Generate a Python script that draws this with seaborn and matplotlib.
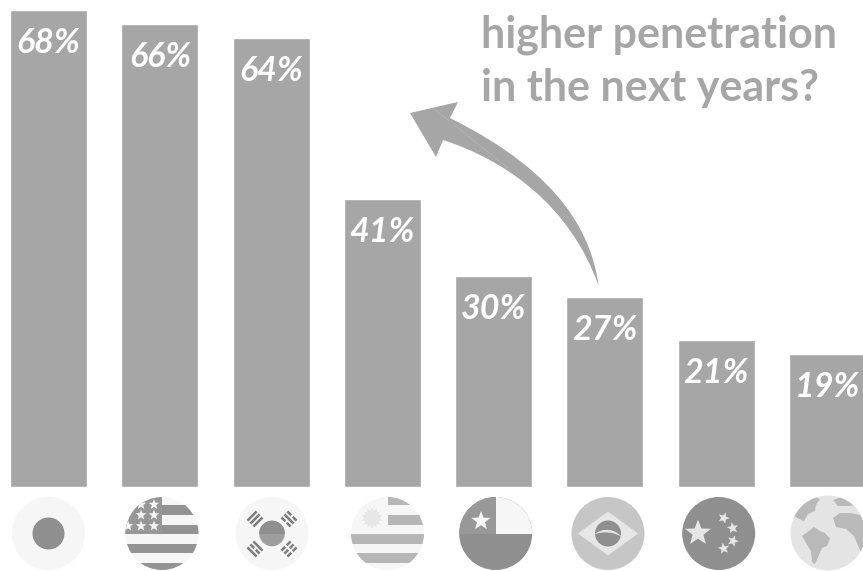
import numpy as np
import pandas as pd
import seaborn as sns
import matplotlib.pyplot as plt
from matplotlib.patches import Circle, Rectangle, Polygon, PathPatch
from matplotlib.path import Path
from matplotlib.transforms import Affine2D

countries = ["Japan", "USA", "South Korea", "Uruguay", "Chile", "Brazil", "China", "World"]
penetration = [68, 66, 64, 41, 30, 27, 21, 19]
headline = ["higher penetration", "in the next years?"]

BAR = "#a6a6a6"
LIGHT = "#f6f6f6"
DARK = "#8f8f8f"
MID = "#b6b6b6"

W, H = 863, 571
BASE_PX, PX_PER_PCT = 487, 7.02
FIRST_PX, STEP_PX = 48.6, 111.25

sns.set_theme(style="white")
plt.rcParams["font.family"] = ["Lato", "DejaVu Sans"]

fig = plt.figure(figsize=(W / 100, H / 100), dpi=100, facecolor="white")
ax = fig.add_axes([0, 0, 1, 1])
frame = pd.DataFrame({"country": countries, "share": penetration})
sns.barplot(data=frame, x="country", y="share", color=BAR, saturation=1,
            width=77 / STEP_PX, ax=ax)
ax.set_xlim(-FIRST_PX / STEP_PX, (W - FIRST_PX) / STEP_PX)
ax.set_ylim(-(H - BASE_PX) / PX_PER_PCT, BASE_PX / PX_PER_PCT)
ax.axis("off")

for i, v in enumerate(penetration):
    ax.annotate(f"{v}%", (i, v), xytext=(0, -33 * 0.72), textcoords="offset points",
                ha="center", va="center", color="white", fontsize=24.5,
                fontweight="bold", fontstyle="italic")

# Overlay in pixel units for the icons, the arrow and the headline
ov = fig.add_axes([0, 0, 1, 1], facecolor="none")
ov.set_xlim(0, W)
ov.set_ylim(H, 0)
ov.axis("off")

for text, y in zip(headline, (35, 88)):
    ov.text(481, y, text, color=BAR, fontsize=31, fontweight="bold", ha="left", va="center")


def star_points(cx, cy, r, n=5, inner=0.42, rot=-90):
    ang = np.deg2rad(rot + np.arange(2 * n) * 180 / n)
    rad = np.where(np.arange(2 * n) % 2 == 0, r, r * inner)
    return np.column_stack([cx + rad * np.cos(ang), cy + rad * np.sin(ang)])


def disc(cx, cy, r, color):
    ov.add_patch(Circle((cx, cy), r, fc=color, ec="none"))
    return Circle((cx, cy), r, transform=ov.transData)


def clipped(patch, clip):
    ov.add_patch(patch)
    patch.set_clip_path(clip)
    return patch


def rect(x0, y0, x1, y1, color, clip=None):
    p = Rectangle((x0, y0), x1 - x0, y1 - y0, fc=color, ec="none")
    return clipped(p, clip) if clip is not None else ov.add_patch(p)


def star(cx, cy, r, color, **kw):
    ov.add_patch(Polygon(star_points(cx, cy, r, **kw), closed=True, fc=color, ec="none"))


def blob(points, color, clip):
    clipped(Polygon(points, closed=True, fc=color, ec="none", joinstyle="round"), clip)


R = 36.5
CY = 533.5

# Japan
disc(48.5, CY, R, LIGHT)
ov.add_patch(Circle((48.5, CY), 16, fc=DARK, ec="none"))

# USA
cx = 162
c = disc(cx, CY, R, LIGHT)
for y0, y1 in ((505, 514.5), (524.5, 534), (543.5, 553), (562.5, 571)):
    rect(cx - 40, y0, cx + 40, y1, "#939393", c)
rect(cx - 40, 495, cx, 534, "#979797", c)
for sy, xs in ((504.5, (141, 154)), (515, (141, 154)), (526, (128, 141, 154))):
    for sx in xs:
        clipped(Polygon(star_points(sx, sy, 5.5), closed=True, fc=LIGHT, ec="none"), c)

# South Korea
cx = 272
disc(cx, CY, R, LIGHT)
ov.add_patch(Circle((cx, CY), 12.8, fc="#9e9e9e", ec="none"))
top = Rectangle((cx - 14, CY - 14), 28, 14, fc="#8f8f8f", ec="none")
ov.add_patch(top)
top.set_clip_path(Circle((cx, CY), 12.8, transform=ov.transData))
for tx, ty, ang, breaks in ((255, 519, -45, (0, 0, 0)), (289, 519, 45, (1, 0, 1)),
                            (255, 549, 45, (0, 1, 0)), (289, 549, -45, (1, 1, 1))):
    for k, b in zip((-4.2, 0, 4.2), breaks):
        segs = ((-6.5, -1), (1, 6.5)) if b else ((-6.5, 6.5),)
        for a, e in segs:
            bar = Rectangle((a, k - 1.25), e - a, 2.5, fc="#7d7d7d", ec="none")
            bar.set_transform(Affine2D().rotate_deg(ang).translate(tx, ty) + ov.transData)
            ov.add_patch(bar)

# Uruguay
cx = 387.5
c = disc(cx, CY, R, LIGHT)
rect(cx, 495, cx + 40, 505, MID, c)
rect(cx, 515, cx + 40, 524.5, MID, c)
rect(cx - 40, 534, cx + 40, 543.5, MID, c)
rect(cx - 40, 553, cx + 40, 562.5, MID, c)
star(372, 518, 10.5, "#e6e6e6", n=14, inner=0.68)

# Chile
cx = 495.7
c = disc(cx, CY, R, DARK)
rect(cx - 40, 495, cx, CY, "#989898", c)
rect(cx, 495, cx + 40, CY, LIGHT, c)
star(481, 521, 10, LIGHT)

# Brazil
cx = 608
disc(cx, CY, R, "#c6c6c6")
ov.add_patch(Polygon([(cx - 30, CY), (cx, CY - 22), (cx + 30, CY), (cx, CY + 22)],
                     closed=True, fc="#e6e6e6", ec="none"))
ov.add_patch(Circle((cx, CY), 13, fc="#8f8f8f", ec="none"))
band = Path([(cx - 14, CY + 1), (cx - 4, CY - 7), (cx + 8, CY - 4), (cx + 14, CY + 4),
             (cx + 8, CY - 1), (cx - 4, CY - 3), (cx - 14, CY + 1)],
            [Path.MOVETO, Path.CURVE4, Path.CURVE4, Path.CURVE4,
             Path.CURVE4, Path.CURVE4, Path.CURVE4])
clipped(PathPatch(band, fc="#e6e6e6", ec="none"), Circle((cx, CY), 13, transform=ov.transData))

# China
cx = 718.7
disc(cx, CY, R, DARK)
star(698, 533, 13.5, "#e6e6e6")
for sx, sy, rot in ((723.7, 518, -70), (732.7, 528, -100), (733, 541, -70), (723.7, 548.5, -100)):
    star(sx, sy, 6, "#e6e6e6", rot=rot)

# World
cx, cy = 828, 533
c = disc(cx, cy, 37.5, "#e4e4e4")
LAND = "#b9b9b9"
blob([(800, 508), (807, 500), (815, 497), (820, 499), (816, 505), (815, 511), (808, 514),
      (804, 521), (797, 518), (793, 515)], LAND, c)
blob([(809, 531), (814, 527), (820, 531), (825, 533), (830, 539), (827, 546), (822, 548),
      (819, 555), (815, 564), (812, 562), (811, 551), (806, 543), (802, 536)], LAND, c)
blob([(833, 500), (842, 497), (850, 500), (858, 505), (848, 506), (838, 506)], LAND, c)
blob([(833, 518), (840, 513), (850, 513), (860, 515), (868, 530), (866, 560), (860, 550),
      (854, 536), (846, 529), (836, 527)], LAND, c)

# Curved arrow from Brazil towards the leaders
verts = [(598.7, 286),
         (592, 238), (565, 175), (450, 118),
         (458, 102), (410, 113), (436, 157), (443, 140),
         (505, 160), (570, 205), (598.7, 286)]
codes = [Path.MOVETO, Path.CURVE4, Path.CURVE4, Path.CURVE4,
         Path.LINETO, Path.LINETO, Path.LINETO, Path.LINETO,
         Path.CURVE4, Path.CURVE4, Path.CURVE4]
ov.add_patch(PathPatch(Path(verts, codes), fc=BAR, ec="none"))
ov.plot([433, 508], [108, 168], color="#b9b9b9", lw=0.4)

fig.savefig("out.png", dpi=100, facecolor="white")
